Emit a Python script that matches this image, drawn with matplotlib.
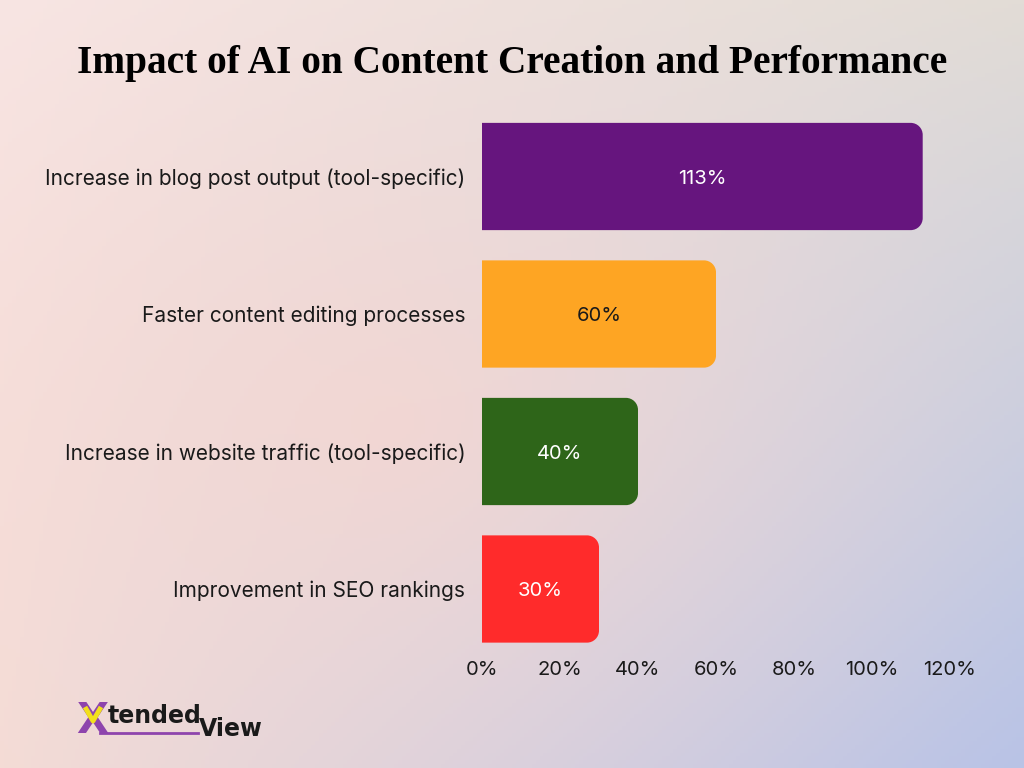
import numpy as np
import matplotlib
matplotlib.use("Agg")
import matplotlib.pyplot as plt
from matplotlib.path import Path
from matplotlib.patches import PathPatch

categories = ["Increase in blog post output (tool-specific)",
              "Faster content editing processes",
              "Increase in website traffic (tool-specific)",
              "Improvement in SEO rankings"]
values = [113, 60, 40, 30]
bar_colors = ["#66157E", "#FEA523", "#2E6519", "#FF2B2B"]
label_colors = ["white", "#1a1a1a", "white", "white"]
ticks = [0, 20, 40, 60, 80, 100, 120]
tick_labels = ["0%", "20%", "40%", "60%", "80%", "100%", "120%"]
title = "Impact of AI on Content Creation and Performance"

W, H = 1024, 768
fig = plt.figure(figsize=(W / 100, H / 100), dpi=100)

# background gradient
bg = fig.add_axes([0, 0, 1, 1])
bg.set_axis_off()
ny, nx = 200, 260
u = np.linspace(0, 1, nx)[None, :, None]
v = np.linspace(0, 1, ny)[:, None, None]
tl = np.array([248, 229, 227]) / 255
tr = np.array([226, 220, 214]) / 255
bl = np.array([244, 220, 214]) / 255
br = np.array([185, 195, 230]) / 255
center = np.array([246, 214, 208]) / 255
img = (1 - u) * (1 - v) * tl + u * (1 - v) * tr + (1 - u) * v * bl + u * v * br
d = np.sqrt((u - 0.38) ** 2 + (v - 0.55) ** 2)
wgt = np.clip(1 - d / 0.7, 0, 1) ** 1.5 * 0.75
img = img * (1 - wgt) + center * wgt
bg.imshow(img, extent=[0, 1, 0, 1], aspect="auto", origin="upper")
bg.set_xlim(0, 1)
bg.set_ylim(0, 1)

# main axes
px_per_unit = 3.9
x0_px = 482
xmax = 125
step = 137.5
top_px = 176.5 - step / 2
ax = fig.add_axes([x0_px / W, 1 - (top_px + 4 * step) / H,
                   px_per_unit * xmax / W, 4 * step / H])
ax.set_facecolor("none")
ax.set_xlim(0, xmax)
ax.set_ylim(3.5, -0.5)
for s in ax.spines.values():
    s.set_visible(False)

ypos = np.arange(len(categories))
bar_h = 0.78
bars = ax.barh(ypos, values, height=bar_h, color=bar_colors)

# replace bars with right-rounded versions
r_px = 12
rx = r_px / px_per_unit
ry = r_px / step
k = 0.5523
for b, col in zip(bars, bar_colors):
    x, y, w, h = b.get_x(), b.get_y(), b.get_width(), b.get_height()
    b.set_visible(False)
    x1, y1 = x + w, y + h
    verts = [(x, y), (x1 - rx, y),
             (x1 - rx + k * rx, y), (x1, y + ry - k * ry), (x1, y + ry),
             (x1, y1 - ry),
             (x1, y1 - ry + k * ry), (x1 - rx + k * rx, y1), (x1 - rx, y1),
             (x, y1), (x, y)]
    codes = [Path.MOVETO, Path.LINETO,
             Path.CURVE4, Path.CURVE4, Path.CURVE4,
             Path.LINETO,
             Path.CURVE4, Path.CURVE4, Path.CURVE4,
             Path.LINETO, Path.CLOSEPOLY]
    ax.add_patch(PathPatch(Path(verts, codes), facecolor=col, edgecolor="none"))

for yi, val, lc in zip(ypos, values, label_colors):
    ax.text(val / 2, yi + 0.015, f"{val}%", ha="center", va="center",
            fontsize=14.5, color=lc, family="Inter")

ax.set_yticks(ypos)
ax.set_yticklabels(categories, fontsize=15, family="Inter", color="#1a1a1a")
ax.set_xticks(ticks)
ax.set_xticklabels(tick_labels, fontsize=14.5, family="Inter", color="#1a1a1a")
ax.tick_params(axis="both", length=0)
ax.tick_params(axis="y", pad=12)
ax.tick_params(axis="x", pad=2)

t = fig.text(0.5, 1 - 63 / H, title, ha="center", va="center", fontsize=30,
             family="Liberation Serif", fontweight="bold", color="black")
fig.canvas.draw()
wpx = t.get_window_extent().width
t.set_fontsize(30 * 870 / wpx)

# logo (drawn in background axes so the yellow V can sit on top of the X)
bg.text(76 / W, 1 - 721 / H, "X", fontsize=30, fontweight="black",
        color="#8E44AD", family="DejaVu Sans", ha="left", va="center",
        transform=bg.transAxes, zorder=3)
bg.plot([85 / W, 93 / W, 101 / W], [1 - 707 / H, 1 - 721 / H, 1 - 707 / H],
        color="#F2E01C", lw=3.5, solid_capstyle="butt", zorder=4)
bg.text(108 / W, 1 - 716 / H, "tended", fontsize=17, fontweight="bold",
        color="#1a1a1a", family="DejaVu Sans", ha="left", va="center",
        transform=bg.transAxes, zorder=3)
bg.text(199 / W, 1 - 729 / H, "View", fontsize=17, fontweight="bold",
        color="#1a1a1a", family="DejaVu Sans", ha="left", va="center",
        transform=bg.transAxes, zorder=3)
bg.plot([100 / W, 198 / W], [1 - 733 / H, 1 - 733 / H], color="#8E44AD",
        lw=2, zorder=3)

fig.savefig("out.png", dpi=100)
